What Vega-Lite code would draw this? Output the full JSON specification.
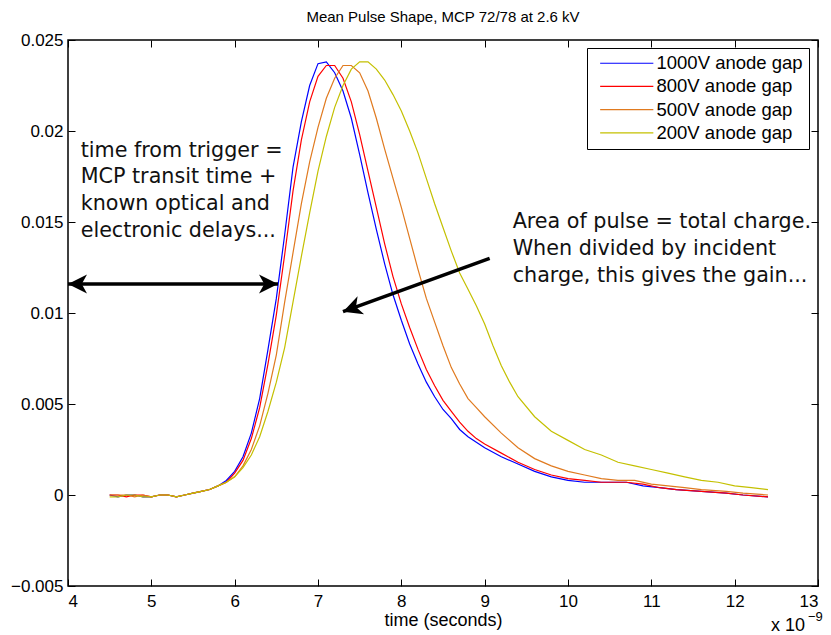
{
  "$schema": "https://vega.github.io/schema/vega-lite/v6.json",
  "width": 750,
  "height": 546,
  "autosize": {"type": "none"},
  "padding": {"left": 68, "top": 40, "right": 13, "bottom": 49},
  "background": "white",
  "title": {"text": "Mean Pulse Shape, MCP 72/78 at 2.6 kV", "font": "Liberation Sans", "fontSize": 15, "fontWeight": "normal", "color": "black", "anchor": "middle", "offset": 6},
  "config": {
    "view": {"stroke": "black", "strokeWidth": 1.5},
    "axis": {"labelFont": "Liberation Sans", "labelFontSize": 17, "labelColor": "black", "titleFont": "Liberation Sans", "titleFontSize": 18, "titleFontWeight": "normal", "titleColor": "black", "tickColor": "black", "tickWidth": 1, "domain": false, "grid": false, "tickSize": -7}
  },
  "datasets": {
    "pulses": [
      {"s": "1000V anode gap", "t": 4.5, "v": 0}, {"s": "1000V anode gap", "t": 4.6, "v": -0.0001}, {"s": "1000V anode gap", "t": 4.7, "v": 0}, {"s": "1000V anode gap", "t": 4.8, "v": 0}, {"s": "1000V anode gap", "t": 4.9, "v": -0.0001}, {"s": "1000V anode gap", "t": 5.0, "v": -0.0001}, {"s": "1000V anode gap", "t": 5.1, "v": 0}, {"s": "1000V anode gap", "t": 5.2, "v": 0}, {"s": "1000V anode gap", "t": 5.3, "v": -0.0001}, {"s": "1000V anode gap", "t": 5.4, "v": 0}, {"s": "1000V anode gap", "t": 5.5, "v": 0.0001}, {"s": "1000V anode gap", "t": 5.6, "v": 0.0002}, {"s": "1000V anode gap", "t": 5.7, "v": 0.0003}, {"s": "1000V anode gap", "t": 5.8, "v": 0.0005}, {"s": "1000V anode gap", "t": 5.9, "v": 0.0008}, {"s": "1000V anode gap", "t": 6.0, "v": 0.0013}, {"s": "1000V anode gap", "t": 6.1, "v": 0.0021}, {"s": "1000V anode gap", "t": 6.2, "v": 0.0034}, {"s": "1000V anode gap", "t": 6.3, "v": 0.0053}, {"s": "1000V anode gap", "t": 6.4, "v": 0.008}, {"s": "1000V anode gap", "t": 6.5, "v": 0.0108}, {"s": "1000V anode gap", "t": 6.6, "v": 0.0143}, {"s": "1000V anode gap", "t": 6.7, "v": 0.018}, {"s": "1000V anode gap", "t": 6.8, "v": 0.0205}, {"s": "1000V anode gap", "t": 6.9, "v": 0.0225}, {"s": "1000V anode gap", "t": 7.0, "v": 0.0237}, {"s": "1000V anode gap", "t": 7.1, "v": 0.0238}, {"s": "1000V anode gap", "t": 7.2, "v": 0.0232}, {"s": "1000V anode gap", "t": 7.3, "v": 0.0222}, {"s": "1000V anode gap", "t": 7.4, "v": 0.0207}, {"s": "1000V anode gap", "t": 7.5, "v": 0.0187}, {"s": "1000V anode gap", "t": 7.6, "v": 0.0166}, {"s": "1000V anode gap", "t": 7.7, "v": 0.0146}, {"s": "1000V anode gap", "t": 7.8, "v": 0.0127}, {"s": "1000V anode gap", "t": 7.9, "v": 0.011}, {"s": "1000V anode gap", "t": 8.0, "v": 0.0096}, {"s": "1000V anode gap", "t": 8.1, "v": 0.0083}, {"s": "1000V anode gap", "t": 8.2, "v": 0.0072}, {"s": "1000V anode gap", "t": 8.3, "v": 0.0062}, {"s": "1000V anode gap", "t": 8.4, "v": 0.0054}, {"s": "1000V anode gap", "t": 8.5, "v": 0.0047}, {"s": "1000V anode gap", "t": 8.6, "v": 0.0042}, {"s": "1000V anode gap", "t": 8.7, "v": 0.0036}, {"s": "1000V anode gap", "t": 8.8, "v": 0.0032}, {"s": "1000V anode gap", "t": 8.9, "v": 0.0029}, {"s": "1000V anode gap", "t": 9.0, "v": 0.0026}, {"s": "1000V anode gap", "t": 9.2, "v": 0.0021}, {"s": "1000V anode gap", "t": 9.4, "v": 0.0017}, {"s": "1000V anode gap", "t": 9.6, "v": 0.0013}, {"s": "1000V anode gap", "t": 9.8, "v": 0.001}, {"s": "1000V anode gap", "t": 10.0, "v": 0.0008}, {"s": "1000V anode gap", "t": 10.2, "v": 0.0007}, {"s": "1000V anode gap", "t": 10.4, "v": 0.0007}, {"s": "1000V anode gap", "t": 10.7, "v": 0.0007}, {"s": "1000V anode gap", "t": 10.9, "v": 0.0005}, {"s": "1000V anode gap", "t": 11.1, "v": 0.0004}, {"s": "1000V anode gap", "t": 11.3, "v": 0.0003}, {"s": "1000V anode gap", "t": 11.6, "v": 0.0002}, {"s": "1000V anode gap", "t": 11.9, "v": 0.0001}, {"s": "1000V anode gap", "t": 12.1, "v": 0}, {"s": "1000V anode gap", "t": 12.4, "v": -0.0001},

      {"s": "800V anode gap", "t": 4.5, "v": 0}, {"s": "800V anode gap", "t": 4.6, "v": 0}, {"s": "800V anode gap", "t": 4.7, "v": -0.0001}, {"s": "800V anode gap", "t": 4.8, "v": 0}, {"s": "800V anode gap", "t": 4.9, "v": 0}, {"s": "800V anode gap", "t": 5.0, "v": -0.0001}, {"s": "800V anode gap", "t": 5.1, "v": 0}, {"s": "800V anode gap", "t": 5.2, "v": 0}, {"s": "800V anode gap", "t": 5.3, "v": -0.0001}, {"s": "800V anode gap", "t": 5.4, "v": 0}, {"s": "800V anode gap", "t": 5.5, "v": 0.0001}, {"s": "800V anode gap", "t": 5.6, "v": 0.0002}, {"s": "800V anode gap", "t": 5.7, "v": 0.0003}, {"s": "800V anode gap", "t": 5.8, "v": 0.0005}, {"s": "800V anode gap", "t": 5.9, "v": 0.0007}, {"s": "800V anode gap", "t": 6.0, "v": 0.0012}, {"s": "800V anode gap", "t": 6.1, "v": 0.0019}, {"s": "800V anode gap", "t": 6.2, "v": 0.0031}, {"s": "800V anode gap", "t": 6.3, "v": 0.0048}, {"s": "800V anode gap", "t": 6.4, "v": 0.0072}, {"s": "800V anode gap", "t": 6.5, "v": 0.0099}, {"s": "800V anode gap", "t": 6.6, "v": 0.0132}, {"s": "800V anode gap", "t": 6.7, "v": 0.0167}, {"s": "800V anode gap", "t": 6.8, "v": 0.0195}, {"s": "800V anode gap", "t": 6.9, "v": 0.0216}, {"s": "800V anode gap", "t": 7.0, "v": 0.023}, {"s": "800V anode gap", "t": 7.1, "v": 0.0236}, {"s": "800V anode gap", "t": 7.2, "v": 0.0236}, {"s": "800V anode gap", "t": 7.3, "v": 0.0229}, {"s": "800V anode gap", "t": 7.4, "v": 0.0216}, {"s": "800V anode gap", "t": 7.5, "v": 0.0198}, {"s": "800V anode gap", "t": 7.6, "v": 0.0178}, {"s": "800V anode gap", "t": 7.7, "v": 0.0158}, {"s": "800V anode gap", "t": 7.8, "v": 0.0138}, {"s": "800V anode gap", "t": 7.9, "v": 0.012}, {"s": "800V anode gap", "t": 8.0, "v": 0.0105}, {"s": "800V anode gap", "t": 8.1, "v": 0.0092}, {"s": "800V anode gap", "t": 8.2, "v": 0.008}, {"s": "800V anode gap", "t": 8.3, "v": 0.0069}, {"s": "800V anode gap", "t": 8.4, "v": 0.006}, {"s": "800V anode gap", "t": 8.5, "v": 0.0052}, {"s": "800V anode gap", "t": 8.6, "v": 0.0046}, {"s": "800V anode gap", "t": 8.7, "v": 0.004}, {"s": "800V anode gap", "t": 8.8, "v": 0.0035}, {"s": "800V anode gap", "t": 8.9, "v": 0.0031}, {"s": "800V anode gap", "t": 9.0, "v": 0.0028}, {"s": "800V anode gap", "t": 9.2, "v": 0.0023}, {"s": "800V anode gap", "t": 9.4, "v": 0.0018}, {"s": "800V anode gap", "t": 9.6, "v": 0.0014}, {"s": "800V anode gap", "t": 9.8, "v": 0.0011}, {"s": "800V anode gap", "t": 10.0, "v": 0.0009}, {"s": "800V anode gap", "t": 10.2, "v": 0.0008}, {"s": "800V anode gap", "t": 10.4, "v": 0.0007}, {"s": "800V anode gap", "t": 10.7, "v": 0.0007}, {"s": "800V anode gap", "t": 10.9, "v": 0.0006}, {"s": "800V anode gap", "t": 11.1, "v": 0.0004}, {"s": "800V anode gap", "t": 11.3, "v": 0.0003}, {"s": "800V anode gap", "t": 11.6, "v": 0.0002}, {"s": "800V anode gap", "t": 11.9, "v": 0.0001}, {"s": "800V anode gap", "t": 12.1, "v": 0}, {"s": "800V anode gap", "t": 12.4, "v": -0.0001},

      {"s": "500V anode gap", "t": 4.5, "v": 0}, {"s": "500V anode gap", "t": 4.6, "v": 0}, {"s": "500V anode gap", "t": 4.7, "v": 0}, {"s": "500V anode gap", "t": 4.8, "v": -0.0001}, {"s": "500V anode gap", "t": 4.9, "v": 0}, {"s": "500V anode gap", "t": 5.0, "v": -0.0001}, {"s": "500V anode gap", "t": 5.1, "v": 0}, {"s": "500V anode gap", "t": 5.2, "v": 0}, {"s": "500V anode gap", "t": 5.3, "v": -0.0001}, {"s": "500V anode gap", "t": 5.4, "v": 0}, {"s": "500V anode gap", "t": 5.5, "v": 0.0001}, {"s": "500V anode gap", "t": 5.6, "v": 0.0002}, {"s": "500V anode gap", "t": 5.7, "v": 0.0003}, {"s": "500V anode gap", "t": 5.8, "v": 0.0005}, {"s": "500V anode gap", "t": 5.9, "v": 0.0007}, {"s": "500V anode gap", "t": 6.0, "v": 0.001}, {"s": "500V anode gap", "t": 6.1, "v": 0.0016}, {"s": "500V anode gap", "t": 6.2, "v": 0.0025}, {"s": "500V anode gap", "t": 6.3, "v": 0.0038}, {"s": "500V anode gap", "t": 6.4, "v": 0.0056}, {"s": "500V anode gap", "t": 6.5, "v": 0.0077}, {"s": "500V anode gap", "t": 6.6, "v": 0.0106}, {"s": "500V anode gap", "t": 6.7, "v": 0.0133}, {"s": "500V anode gap", "t": 6.8, "v": 0.016}, {"s": "500V anode gap", "t": 6.9, "v": 0.0183}, {"s": "500V anode gap", "t": 7.0, "v": 0.0202}, {"s": "500V anode gap", "t": 7.1, "v": 0.0218}, {"s": "500V anode gap", "t": 7.2, "v": 0.0229}, {"s": "500V anode gap", "t": 7.3, "v": 0.0236}, {"s": "500V anode gap", "t": 7.4, "v": 0.0236}, {"s": "500V anode gap", "t": 7.5, "v": 0.0232}, {"s": "500V anode gap", "t": 7.6, "v": 0.0222}, {"s": "500V anode gap", "t": 7.7, "v": 0.0207}, {"s": "500V anode gap", "t": 7.8, "v": 0.019}, {"s": "500V anode gap", "t": 7.9, "v": 0.0174}, {"s": "500V anode gap", "t": 8.0, "v": 0.0158}, {"s": "500V anode gap", "t": 8.1, "v": 0.0141}, {"s": "500V anode gap", "t": 8.2, "v": 0.0124}, {"s": "500V anode gap", "t": 8.3, "v": 0.0108}, {"s": "500V anode gap", "t": 8.4, "v": 0.0095}, {"s": "500V anode gap", "t": 8.5, "v": 0.0082}, {"s": "500V anode gap", "t": 8.6, "v": 0.007}, {"s": "500V anode gap", "t": 8.7, "v": 0.0061}, {"s": "500V anode gap", "t": 8.8, "v": 0.0053}, {"s": "500V anode gap", "t": 8.9, "v": 0.0048}, {"s": "500V anode gap", "t": 9.0, "v": 0.0043}, {"s": "500V anode gap", "t": 9.2, "v": 0.0034}, {"s": "500V anode gap", "t": 9.4, "v": 0.0026}, {"s": "500V anode gap", "t": 9.6, "v": 0.002}, {"s": "500V anode gap", "t": 9.8, "v": 0.0016}, {"s": "500V anode gap", "t": 10.0, "v": 0.0013}, {"s": "500V anode gap", "t": 10.2, "v": 0.0011}, {"s": "500V anode gap", "t": 10.4, "v": 0.0009}, {"s": "500V anode gap", "t": 10.6, "v": 0.0008}, {"s": "500V anode gap", "t": 10.8, "v": 0.0008}, {"s": "500V anode gap", "t": 11.0, "v": 0.0006}, {"s": "500V anode gap", "t": 11.2, "v": 0.0005}, {"s": "500V anode gap", "t": 11.4, "v": 0.0004}, {"s": "500V anode gap", "t": 11.6, "v": 0.0003}, {"s": "500V anode gap", "t": 11.9, "v": 0.0002}, {"s": "500V anode gap", "t": 12.1, "v": 0.0001}, {"s": "500V anode gap", "t": 12.4, "v": 0},

      {"s": "200V anode gap", "t": 4.5, "v": -0.0001}, {"s": "200V anode gap", "t": 4.6, "v": -0.0001}, {"s": "200V anode gap", "t": 4.7, "v": 0}, {"s": "200V anode gap", "t": 4.8, "v": 0}, {"s": "200V anode gap", "t": 4.9, "v": -0.0001}, {"s": "200V anode gap", "t": 5.0, "v": -0.0001}, {"s": "200V anode gap", "t": 5.1, "v": 0}, {"s": "200V anode gap", "t": 5.2, "v": 0}, {"s": "200V anode gap", "t": 5.3, "v": -0.0001}, {"s": "200V anode gap", "t": 5.4, "v": 0}, {"s": "200V anode gap", "t": 5.5, "v": 0.0001}, {"s": "200V anode gap", "t": 5.6, "v": 0.0002}, {"s": "200V anode gap", "t": 5.7, "v": 0.0003}, {"s": "200V anode gap", "t": 5.8, "v": 0.0005}, {"s": "200V anode gap", "t": 5.9, "v": 0.0007}, {"s": "200V anode gap", "t": 6.0, "v": 0.001}, {"s": "200V anode gap", "t": 6.1, "v": 0.0015}, {"s": "200V anode gap", "t": 6.2, "v": 0.0022}, {"s": "200V anode gap", "t": 6.3, "v": 0.0032}, {"s": "200V anode gap", "t": 6.4, "v": 0.0046}, {"s": "200V anode gap", "t": 6.5, "v": 0.0062}, {"s": "200V anode gap", "t": 6.6, "v": 0.0081}, {"s": "200V anode gap", "t": 6.7, "v": 0.0106}, {"s": "200V anode gap", "t": 6.8, "v": 0.0131}, {"s": "200V anode gap", "t": 6.9, "v": 0.0155}, {"s": "200V anode gap", "t": 7.0, "v": 0.0178}, {"s": "200V anode gap", "t": 7.1, "v": 0.0197}, {"s": "200V anode gap", "t": 7.2, "v": 0.0213}, {"s": "200V anode gap", "t": 7.3, "v": 0.0225}, {"s": "200V anode gap", "t": 7.4, "v": 0.0234}, {"s": "200V anode gap", "t": 7.5, "v": 0.0238}, {"s": "200V anode gap", "t": 7.6, "v": 0.0238}, {"s": "200V anode gap", "t": 7.7, "v": 0.0234}, {"s": "200V anode gap", "t": 7.8, "v": 0.0228}, {"s": "200V anode gap", "t": 7.9, "v": 0.022}, {"s": "200V anode gap", "t": 8.0, "v": 0.0211}, {"s": "200V anode gap", "t": 8.1, "v": 0.02}, {"s": "200V anode gap", "t": 8.2, "v": 0.0188}, {"s": "200V anode gap", "t": 8.3, "v": 0.0174}, {"s": "200V anode gap", "t": 8.4, "v": 0.016}, {"s": "200V anode gap", "t": 8.5, "v": 0.0147}, {"s": "200V anode gap", "t": 8.6, "v": 0.0134}, {"s": "200V anode gap", "t": 8.7, "v": 0.0122}, {"s": "200V anode gap", "t": 8.8, "v": 0.0113}, {"s": "200V anode gap", "t": 8.9, "v": 0.0104}, {"s": "200V anode gap", "t": 9.0, "v": 0.0094}, {"s": "200V anode gap", "t": 9.1, "v": 0.0082}, {"s": "200V anode gap", "t": 9.2, "v": 0.0071}, {"s": "200V anode gap", "t": 9.3, "v": 0.0062}, {"s": "200V anode gap", "t": 9.4, "v": 0.0054}, {"s": "200V anode gap", "t": 9.6, "v": 0.0043}, {"s": "200V anode gap", "t": 9.8, "v": 0.0035}, {"s": "200V anode gap", "t": 10.0, "v": 0.003}, {"s": "200V anode gap", "t": 10.2, "v": 0.0025}, {"s": "200V anode gap", "t": 10.4, "v": 0.0022}, {"s": "200V anode gap", "t": 10.6, "v": 0.0018}, {"s": "200V anode gap", "t": 10.8, "v": 0.0016}, {"s": "200V anode gap", "t": 11.0, "v": 0.0014}, {"s": "200V anode gap", "t": 11.2, "v": 0.0012}, {"s": "200V anode gap", "t": 11.4, "v": 0.001}, {"s": "200V anode gap", "t": 11.6, "v": 0.0008}, {"s": "200V anode gap", "t": 11.8, "v": 0.0007}, {"s": "200V anode gap", "t": 12.0, "v": 0.0005}, {"s": "200V anode gap", "t": 12.2, "v": 0.0004}, {"s": "200V anode gap", "t": 12.4, "v": 0.0003}
    ],
    "arrows": [
      {"t": 4.0, "v": 0.0116, "t2": 6.52, "v2": 0.0116},
      {"t": 9.06, "v": 0.013, "t2": 7.3, "v2": 0.01007}
    ],
    "heads": [
      {"t": 4.0, "v": 0.0116, "dir": "left"},
      {"t": 6.52, "v": 0.0116, "dir": "right"},
      {"t": 7.3, "v": 0.01007, "dir": "downleft"}
    ],
    "notes": [
      {"t": 4.152, "v": 0.01859, "label": "time from trigger ="},
      {"t": 4.152, "v": 0.01713, "label": "MCP transit time +"},
      {"t": 4.152, "v": 0.01566, "label": "known optical and"},
      {"t": 4.152, "v": 0.0142, "label": "electronic delays..."},
      {"t": 9.336, "v": 0.01465, "label": "Area of pulse = total charge."},
      {"t": 9.336, "v": 0.01319, "label": "When divided by incident"},
      {"t": 9.336, "v": 0.01172, "label": "charge, this gives the gain..."}
    ],
    "exp": [{"t": 12.436, "v": -0.00745, "label": "x 10"}],
    "expsup": [{"t": 12.88, "v": -0.00695, "label": "\u22129"}]
  },
  "resolve": {"axis": {"x": "independent", "y": "independent"}},
  "layer": [
    {
      "data": {"name": "pulses"},
      "mark": {"type": "line", "strokeWidth": 1.2},
      "encoding": {
        "x": {"field": "t", "type": "quantitative", "scale": {"domain": [4, 13], "nice": false, "zero": false},
              "axis": {"orient": "bottom", "values": [4, 5, 6, 7, 8, 9, 10, 11, 12, 13], "format": "d", "title": "time (seconds)", "labelPadding": 14, "titlePadding": 2}},
        "y": {"field": "v", "type": "quantitative", "scale": {"domain": [-0.005, 0.025], "nice": false, "zero": false},
              "axis": {"orient": "left", "values": [-0.005, 0, 0.005, 0.01, 0.015, 0.02, 0.025], "format": "~g", "title": null, "labelPadding": 12}},
        "color": {"field": "s", "type": "nominal",
                  "scale": {"domain": ["1000V anode gap", "800V anode gap", "500V anode gap", "200V anode gap"], "range": ["#0000ff", "#ff0000", "#e07a1f", "#c4c000"]},
                  "legend": {"title": null, "orient": "none", "legendX": 519, "legendY": 8, "symbolType": "M-0.3,0L7.3,0", "symbolSize": 196, "symbolStrokeWidth": 1.2, "labelFont": "Liberation Sans", "labelFontSize": 18.5, "labelColor": "black", "labelOffset": 45, "labelLimit": 300, "strokeColor": "black", "fillColor": "white", "padding": 6, "rowPadding": 4.2}},
        "order": {"field": "t", "type": "quantitative"}
      }
    },
    {
      "data": {"name": "arrows"},
      "mark": {"type": "rule", "strokeWidth": 3.5, "color": "black"},
      "encoding": {
        "x": {"field": "t", "type": "quantitative", "axis": {"orient": "top", "values": [4, 5, 6, 7, 8, 9, 10, 11, 12, 13], "labels": false, "title": null}},
        "x2": {"field": "t2"},
        "y": {"field": "v", "type": "quantitative", "axis": {"orient": "right", "values": [-0.005, 0, 0.005, 0.01, 0.015, 0.02, 0.025], "labels": false, "title": null}},
        "y2": {"field": "v2"}
      }
    },
    {
      "data": {"name": "heads"},
      "transform": [{"filter": "datum.dir === 'left'"}],
      "mark": {"type": "point", "shape": "M0,0L1,2L0,1.45L-1,2Z", "filled": true, "color": "black", "size": 361, "opacity": 1, "strokeWidth": 0, "angle": 270},
      "encoding": {
        "x": {"field": "t", "type": "quantitative", "axis": null},
        "y": {"field": "v", "type": "quantitative", "axis": null}
      }
    },
    {
      "data": {"name": "heads"},
      "transform": [{"filter": "datum.dir === 'right'"}],
      "mark": {"type": "point", "shape": "M0,0L1,2L0,1.45L-1,2Z", "filled": true, "color": "black", "size": 361, "opacity": 1, "strokeWidth": 0, "angle": 90},
      "encoding": {
        "x": {"field": "t", "type": "quantitative", "axis": null},
        "y": {"field": "v", "type": "quantitative", "axis": null}
      }
    },
    {
      "data": {"name": "heads"},
      "transform": [{"filter": "datum.dir === 'downleft'"}],
      "mark": {"type": "point", "shape": "M0,0L1,2L0,1.45L-1,2Z", "filled": true, "color": "black", "size": 361, "opacity": 1, "strokeWidth": 0, "angle": 250},
      "encoding": {
        "x": {"field": "t", "type": "quantitative", "axis": null},
        "y": {"field": "v", "type": "quantitative", "axis": null}
      }
    },
    {
      "data": {"name": "notes"},
      "mark": {"type": "text", "font": "DejaVu Sans", "fontSize": 20.7, "align": "left", "baseline": "alphabetic", "color": "#111111"},
      "encoding": {
        "x": {"field": "t", "type": "quantitative", "axis": null},
        "y": {"field": "v", "type": "quantitative", "axis": null},
        "text": {"field": "label"}
      }
    },
    {
      "data": {"name": "exp"},
      "mark": {"type": "text", "font": "Liberation Sans", "fontSize": 18, "align": "left", "baseline": "alphabetic", "color": "black"},
      "encoding": {
        "x": {"field": "t", "type": "quantitative", "axis": null},
        "y": {"field": "v", "type": "quantitative", "axis": null},
        "text": {"field": "label"}
      }
    },
    {
      "data": {"name": "expsup"},
      "mark": {"type": "text", "font": "Liberation Sans", "fontSize": 13, "align": "left", "baseline": "alphabetic", "color": "black"},
      "encoding": {
        "x": {"field": "t", "type": "quantitative", "axis": null},
        "y": {"field": "v", "type": "quantitative", "axis": null},
        "text": {"field": "label"}
      }
    }
  ]
}
